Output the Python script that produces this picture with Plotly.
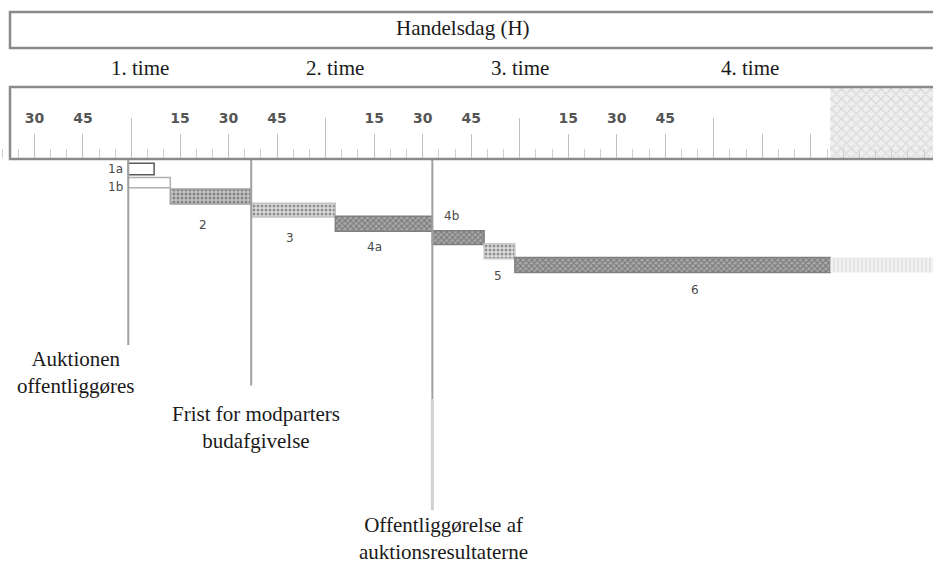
import plotly.graph_objects as go

# ---------------- data (minutes relative to start of "1. time") ----------------
phase_names = ["1a", "1b", "2", "3", "4a", "4b", "5", "6"]
phase_start = [-1, -1, 12, 37, 63, 93, 109, 118.5]
phase_end = [7, 12, 37, 63, 93, 109, 118.5, 216]
phase_rows = [0, 1, 2, 3, 4, 5, 6, 7]

tail_start = [216]          # lighter continuation of phase 6
tail_end = [250]
closed_start = [216]        # hatched, closed part of the time scale
closed_end = [260]

event_times = [-1, 37, 93]
event_labels = ["Auktionen<br>offentliggøres",
                "Frist for modparters<br>budafgivelse",
                "Offentliggørelse af<br>auktionsresultaterne"]

tick_minutes = [-30, -15, 0, 15, 30, 45, 60, 75, 90, 105, 120, 135, 150, 165, 180, 195, 210]
tick_labels = ["30", "45", "", "15", "30", "45", "", "15", "30", "45", "", "15", "30", "45", "", "", ""]
hour_minutes = [0, 60, 120, 180]
hour_labels = ["1. time", "2. time", "3. time", "4. time"]
day_label = "Handelsdag (H)"

# ---------------- styles / layout helpers ----------------
W, H = 933, 563
X_RANGE = [-40.65, 247.76]
Y_RANGE = [28.76, -12.34]   # reversed row axis

bar_heights = [0.85, 0.75, 1.1, 1.0, 1.1, 1.0, 1.1, 1.1]
bar_fill = ["white", "white", "#c4c4c4", "#dcdcdc", "#a8a8a8", "#a8a8a8", "#dedede", "#a8a8a8"]
bar_fg = ["white", "white", "#8c8c8c", "#b4b4b4", "#505050", "#505050", "#bdbdbd", "#505050"]
bar_shape = ["", "", ".", ".", "x", "x", ".", "x"]
bar_line = ["#5a5a5a", "#b0b0b0", "#a0a0a0", "#c4c4c4", "#808080", "#808080", "#c8c8c8", "#808080"]

label_dx = [0, 0, -2.5, -1, -3, -2, -0.6, 7]
label_dy = [0, 0.3, 2.1, 2.0, 1.7, -1.6, 1.8, 1.8]
label_anchor = ["right", "right", "center", "center", "center", "center", "center", "center"]

event_line_bottom = [12.85, 15.8, 24.9]
event_label_row = [14.85, 18.9, 27.0]
event_label_shift = [-53, 5, 11]

serif = "Liberation Serif"
sans = "DejaVu Sans"

fig = go.Figure()

# closed (hatched) part of time scale
fig.add_trace(go.Bar(
    y=[-3.45], x=[closed_end[0] - closed_start[0]], base=closed_start, orientation="h",
    width=[5.2],
    marker=dict(color="#efefef", line=dict(width=0),
                pattern=dict(shape="x", fgcolor="#c4c4c4", bgcolor="#efefef", size=7, solidity=0.35)),
    hoverinfo="skip", showlegend=False))

# phase bars
fig.add_trace(go.Bar(
    y=phase_rows, x=[e - s for s, e in zip(phase_start, phase_end)], base=phase_start,
    orientation="h", width=bar_heights,
    marker=dict(color=bar_fill,
                line=dict(color=bar_line, width=1.5),
                pattern=dict(shape=bar_shape, fgcolor=bar_fg, bgcolor=bar_fill, size=4, solidity=0.45)),
    hoverinfo="skip", showlegend=False))

# tail of phase 6
fig.add_trace(go.Bar(
    y=[phase_rows[-1]], x=[tail_end[0] - tail_start[0]], base=tail_start, orientation="h",
    width=[bar_heights[-1]],
    marker=dict(color="#f0f0f0", line=dict(width=0),
                pattern=dict(shape="|", fgcolor="#d0d0d0", bgcolor="#f2f2f2", size=4, solidity=0.4)),
    hoverinfo="skip", showlegend=False))

# event lines
for i, t in enumerate(event_times):
    if i == 2:
        fig.add_trace(go.Scatter(x=[t, t], y=[-0.8, 16.8], mode="lines",
                                 line=dict(color="#a0a0a0", width=2), hoverinfo="skip", showlegend=False))
        fig.add_trace(go.Scatter(x=[t, t], y=[16.8, event_line_bottom[i]], mode="lines",
                                 line=dict(color="#d0d0d0", width=3), hoverinfo="skip", showlegend=False))
    else:
        fig.add_trace(go.Scatter(x=[t, t], y=[-0.8, event_line_bottom[i]], mode="lines",
                                 line=dict(color="#a0a0a0", width=2), hoverinfo="skip", showlegend=False))

# dummy traces so the extra axes are drawn
for ax in ["x2", "x3", "x4"]:
    fig.add_trace(go.Scatter(x=[None], y=[None], xaxis=ax, yaxis="y", showlegend=False, hoverinfo="skip"))

annotations = []
# phase labels
for i, name in enumerate(phase_names):
    if label_anchor[i] == "right":
        ax_x = phase_start[i]
        xs = -3
    else:
        ax_x = (phase_start[i] + phase_end[i]) / 2 + label_dx[i]
        xs = 0
    annotations.append(dict(x=ax_x, y=phase_rows[i] + label_dy[i], xref="x", yref="y",
                            text=name, showarrow=False, xanchor=label_anchor[i], yanchor="middle",
                            xshift=xs, font=dict(family=sans, size=12, color="#4a4a4a")))
# event labels
for i, t in enumerate(event_times):
    annotations.append(dict(x=t, y=event_label_row[i], xref="x", yref="y", text=event_labels[i],
                            showarrow=False, xanchor="center", yanchor="middle",
                            xshift=event_label_shift[i],
                            font=dict(family=serif, size=21, color="#1a1a1a")))
# header labels
annotations.append(dict(x=463 / W, y=1 - 28 / H, xref="paper", yref="paper", text=day_label,
                        showarrow=False, xanchor="center", yanchor="middle",
                        font=dict(family=serif, size=21, color="#1a1a1a")))
hour_px = [140, 335, 520, 750]
for lab, px in zip(hour_labels, hour_px):
    annotations.append(dict(x=px / W, y=1 - 68 / H, xref="paper", yref="paper", text=lab,
                            showarrow=False, xanchor="center", yanchor="middle",
                            font=dict(family=serif, size=21, color="#1a1a1a")))

shapes = [
    dict(type="rect", xref="paper", yref="paper", x0=10 / W, x1=1.02, y0=1 - 48 / H, y1=1 - 12 / H,
         line=dict(color="#8a8a8a", width=2.5), fillcolor="rgba(0,0,0,0)", layer="above"),
    dict(type="rect", xref="paper", yref="paper", x0=10 / W, x1=1.02, y0=1 - 159 / H, y1=1 - 87 / H,
         line=dict(color="#8a8a8a", width=2.5), fillcolor="rgba(0,0,0,0)", layer="above"),
]

box_bottom = 1 - 158 / H
fig.update_layout(
    width=W, height=H, margin=dict(l=0, r=0, t=0, b=0),
    paper_bgcolor="white", plot_bgcolor="white",
    barmode="overlay", showlegend=False,
    xaxis=dict(range=X_RANGE, visible=False, fixedrange=True),
    yaxis=dict(range=Y_RANGE, visible=False, fixedrange=True),
    # minor/major ticks of the time scale
    xaxis2=dict(range=X_RANGE, overlaying="x", anchor="free", position=box_bottom, side="bottom",
                tickmode="array", tickvals=tick_minutes, ticks="inside", ticklen=24,
                tickcolor="#c0c0c0", tickwidth=1, showticklabels=False, showgrid=False,
                zeroline=False, showline=False,
                minor=dict(dtick=5, tick0=0, ticks="inside", ticklen=9, tickcolor="#cfcfcf", tickwidth=1)),
    # hour ticks
    xaxis4=dict(range=X_RANGE, overlaying="x", anchor="free", position=box_bottom, side="bottom",
                tickmode="array", tickvals=hour_minutes, ticks="inside", ticklen=40,
                tickcolor="#c0c0c0", tickwidth=1, showticklabels=False, showgrid=False,
                zeroline=False, showline=False),
    # tick labels
    xaxis3=dict(range=X_RANGE, overlaying="x", anchor="free", position=1 - 108 / H, side="bottom",
                tickmode="array", tickvals=tick_minutes, ticktext=tick_labels, ticks="",
                showticklabels=True, showgrid=False, zeroline=False, showline=False,
                tickfont=dict(family=sans, size=14, color="#555555", weight="bold")),
    annotations=annotations, shapes=shapes,
)

fig.write_html("out.html", config={"displayModeBar": False},
               post_script="document.body.style.margin='0px';")
